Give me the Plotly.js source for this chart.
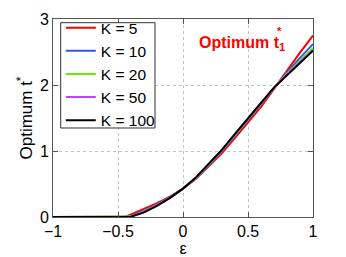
<!DOCTYPE html>
<html><head><meta charset="utf-8">
<script src="https://cdn.plot.ly/plotly-3.0.1.min.js"></script>
<style>html,body{margin:0;padding:0;background:#fff}</style>
</head><body>
<div id="chart" style="width:346px;height:257px"></div>
<script>
var eps = [-1, -0.9, -0.8, -0.7, -0.6, -0.5, -0.45, -0.4, -0.3, -0.2, -0.1, 0, 0.1, 0.2, 0.3, 0.4, 0.5, 0.6, 0.7, 0.8, 0.9, 1];
var k5   = [0, 0, 0, 0, 0, 0, 0, 0.04, 0.12, 0.21, 0.31, 0.43, 0.58, 0.77, 0.97, 1.20, 1.43, 1.67, 1.94, 2.22, 2.49, 2.75];
var k10  = [0, 0, 0, 0, 0, 0, 0, 0.02, 0.09, 0.19, 0.30, 0.43, 0.59, 0.79, 1.00, 1.23, 1.47, 1.70, 1.95, 2.19, 2.41, 2.62];
var k20  = [0, 0, 0, 0, 0, 0, 0, 0.01, 0.08, 0.18, 0.295, 0.43, 0.595, 0.80, 1.01, 1.245, 1.485, 1.715, 1.955, 2.17, 2.37, 2.56];
var k50  = [0, 0, 0, 0, 0, 0, 0, 0.007, 0.075, 0.175, 0.29, 0.43, 0.60, 0.805, 1.015, 1.255, 1.495, 1.725, 1.96, 2.16, 2.35, 2.53];
var k100 = [0, 0, 0, 0, 0, 0, 0, 0.005, 0.07, 0.17, 0.29, 0.43, 0.60, 0.81, 1.02, 1.26, 1.50, 1.73, 1.96, 2.15, 2.34, 2.52];
var names = ['K = 5', 'K = 10', 'K = 20', 'K = 50', 'K = 100'];
var series = [k5, k10, k20, k50, k100];
var colors = ['#ff0000', '#3355ee', '#66ee00', '#bb44ff', '#000000'];
var xTickVals = [-1, -0.5, 0, 0.5, 1];
var xTickText = ['\u22121', '\u22120.5', '0', '0.5', '1'];
var yTickVals = [0, 1, 2, 3];

var traces = series.map(function (s, i) {
  return {x: eps, y: s, name: names[i], type: 'scatter', mode: 'lines',
    line: {color: colors[i], width: 2}};
});
var fam = 'Liberation Sans, Arial, sans-serif';
var font = {family: fam, size: 16, color: '#000'};
var layout = {
  width: 346, height: 257,
  margin: {l: 53, r: 33, t: 19, b: 40, autoexpand: false},
  paper_bgcolor: '#fff', plot_bgcolor: '#fff',
  font: font,
  showlegend: true,
  legend: {x: 0.03, y: 1.04, xanchor: 'left', yanchor: 'top',
    bgcolor: 'rgba(0,0,0,0)', borderwidth: 0,
    font: {family: fam, size: 15.5, color: '#000'},
    tracegroupgap: 0, itemwidth: 30},
  shapes: [{type: 'rect', xref: 'paper', yref: 'paper', layer: 'above',
    x0: 0.0296, x1: 0.3923, y0: 0.4495, y1: 0.9813,
    line: {color: '#333', width: 1}, fillcolor: '#fff'}],
  xaxis: {range: [-1, 1], tickvals: xTickVals, ticktext: xTickText,
    ticks: 'inside', ticklen: 5, tickcolor: '#555', showline: true, linecolor: '#555', linewidth: 1, mirror: 'ticks',
    showgrid: true, gridcolor: '#c4c4c4', griddash: 'dot', gridwidth: 1, zeroline: false,
    tickfont: font, title: {text: '\u03b5', font: font, standoff: 3}},
  yaxis: {range: [0, 3], tickvals: yTickVals,
    ticks: 'inside', ticklen: 5, tickcolor: '#555', showline: true, linecolor: '#555', linewidth: 1, mirror: 'ticks',
    showgrid: true, gridcolor: '#c4c4c4', griddash: 'dot', gridwidth: 1, zeroline: false,
    tickfont: font, title: {text: 'Optimum t<sup>*</sup>', font: {family: fam, size: 17, color: '#000'}, standoff: 2}},
  annotations: [{xref: 'paper', yref: 'paper', x: 0.555, y: 0.875, xanchor: 'left', yanchor: 'middle',
    text: '<b>Optimum t<sub>1</sub></b>', showarrow: false,
    font: {family: fam, size: 16, color: '#ff0000'}},
    {xref: 'paper', yref: 'paper', x: 0.855, y: 0.94, xanchor: 'left', yanchor: 'middle',
    text: '<b>*</b>', showarrow: false,
    font: {family: fam, size: 11, color: '#ff0000'}}]
};
Plotly.newPlot('chart', traces, layout, {displayModeBar: false, staticPlot: true});
</script>
</body></html>
